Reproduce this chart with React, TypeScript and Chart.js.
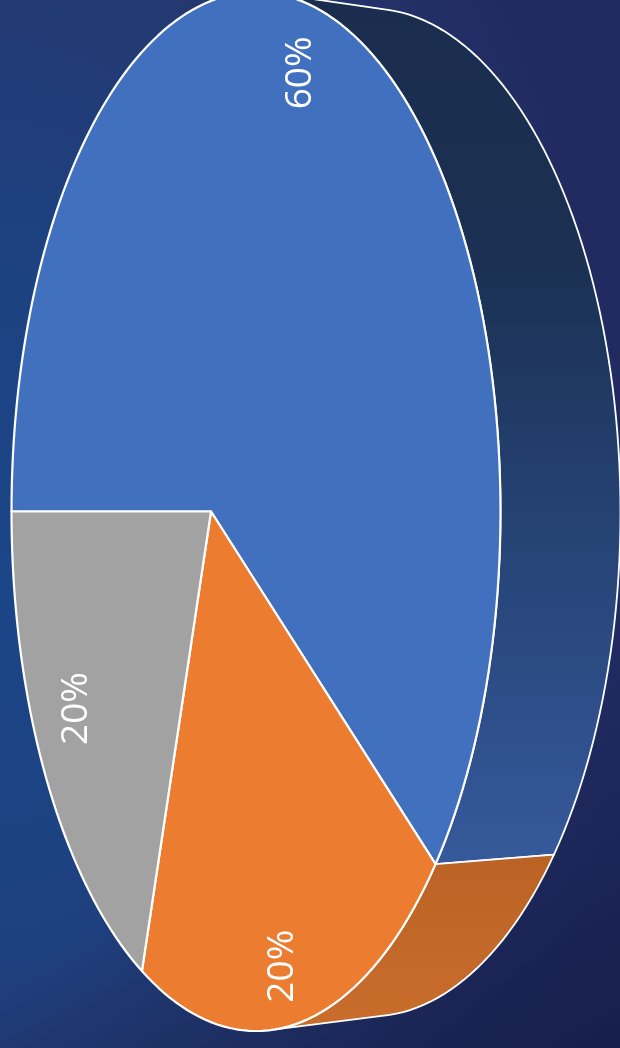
import React, { useEffect, useRef } from "react";
import { Chart, registerables } from "chart.js";

Chart.register(...registerables);

const categories = ["Blue", "Orange", "Gray"];
const values = [60, 20, 20];
const faceColors = ["#4170BF", "#EB7C30", "#A2A2A2"];

// Layout of the tilted pie: a circle seen in perspective
const TILT = -0.184;
const FRONT = { cx: 256, cy: 511.5, rx: 244.5, ry: 519.5 };
const BACK = { cx: 370, cy: 512.5, rx: 250.5, ry: 504 };
const LABEL_RADIUS = [0.876, 0.89, 0.775];
const LABEL_TURN = [5.4, -0.4, 2.16];
const LABEL_SHIFT = 1.5;

type Ell = typeof FRONT;

function project(px: number, py: number, e: Ell) {
  const d = 1 + TILT * px;
  const s = Math.sqrt(1 - TILT * TILT);
  return { x: e.cx + (e.rx * (px + TILT)) / d, y: e.cy + (e.ry * s * py) / d };
}
const rim = (t: number, e: Ell) => project(Math.cos(t), Math.sin(t), e);

function wallGradient(ctx: CanvasRenderingContext2D, index: number) {
  if (index === 0) {
    const g = ctx.createLinearGradient(0, 0, 0, 860);
    g.addColorStop(0, "#1A2D4E");
    g.addColorStop(0.3, "#1B3052");
    g.addColorStop(0.55, "#233F6E");
    g.addColorStop(0.75, "#2A4A81");
    g.addColorStop(1, "#36599B");
    return g;
  }
  const g = ctx.createLinearGradient(0, 860, 0, 1030);
  g.addColorStop(0, "#BB6325");
  g.addColorStop(1, "#C96D2C");
  return g;
}

const tiltedPie = {
  id: "tiltedPie",
  beforeDatasetsDraw(chart: any) {
    const ctx: CanvasRenderingContext2D = chart.ctx;
    const arcs = chart.getDatasetMeta(0).data;
    const steps = 240;
    ctx.save();
    ctx.lineJoin = "round";

    // side walls: only the part of each rim that faces the viewer
    arcs.forEach((arc: any, i: number) => {
      const a0 = arc.startAngle;
      const a1 = arc.endAngle;
      const n = Math.max(8, Math.round((steps * (a1 - a0)) / (2 * Math.PI)));
      const ts: number[] = [];
      for (let k = 0; k <= n; k++) {
        const t = a0 + ((a1 - a0) * k) / n;
        const f = rim(t, FRONT);
        const f2 = rim(t + 0.002, FRONT);
        const b = rim(t, BACK);
        const cross = (f2.x - f.x) * (b.y - f.y) - (f2.y - f.y) * (b.x - f.x);
        if (cross < 0) ts.push(t);
      }
      if (ts.length < 2) return;
      ctx.beginPath();
      ts.forEach((t, k) => {
        const p = rim(t, FRONT);
        if (k === 0) ctx.moveTo(p.x, p.y);
        else ctx.lineTo(p.x, p.y);
      });
      [...ts].reverse().forEach((t) => {
        const p = rim(t, BACK);
        ctx.lineTo(p.x, p.y);
      });
      ctx.closePath();
      ctx.fillStyle = wallGradient(ctx, i);
      ctx.fill();
      ctx.strokeStyle = "#FFFFFF";
      ctx.lineWidth = 1.8;
      ctx.stroke();
    });

    // top faces
    arcs.forEach((arc: any) => {
      const a0 = arc.startAngle;
      const a1 = arc.endAngle;
      const n = Math.max(8, Math.round((steps * (a1 - a0)) / (2 * Math.PI)));
      const c = project(0, 0, FRONT);
      ctx.beginPath();
      ctx.moveTo(c.x, c.y);
      for (let k = 0; k <= n; k++) {
        const p = rim(a0 + ((a1 - a0) * k) / n, FRONT);
        ctx.lineTo(p.x, p.y);
      }
      ctx.closePath();
      ctx.fillStyle = arc.options.backgroundColor;
      ctx.fill();
      ctx.strokeStyle = "#FFFFFF";
      ctx.lineWidth = 2.2;
      ctx.stroke();
    });

    // percentage labels, reading upwards
    const total = values.reduce((s, v) => s + v, 0);
    ctx.fillStyle = "#FFFFFF";
    ctx.font = "400 37px 'Open Sans'";
    ctx.textAlign = "center";
    ctx.textBaseline = "middle";
    arcs.forEach((arc: any, i: number) => {
      const mid = (arc.startAngle + arc.endAngle) / 2 + (LABEL_TURN[i] * Math.PI) / 180;
      const r = LABEL_RADIUS[i];
      const p = project(r * Math.cos(mid), r * Math.sin(mid), FRONT);
      ctx.save();
      ctx.translate(p.x + LABEL_SHIFT, p.y);
      ctx.rotate(-Math.PI / 2);
      ctx.fillText(`${Math.round((values[i] / total) * 100)}%`, 0, 0);
      ctx.restore();
    });
    ctx.restore();
    return false;
  },
};

export default function App() {
  const ref = useRef<HTMLCanvasElement>(null);
  useEffect(() => {
    document.body.style.margin = "0";
    const chart = new Chart(ref.current!, {
      type: "pie",
      data: {
        labels: categories,
        datasets: [{ data: values, backgroundColor: faceColors }],
      },
      options: {
        responsive: false,
        animation: false,
        rotation: 270,
        plugins: { legend: { display: false }, tooltip: { enabled: false } },
      },
      plugins: [tiltedPie],
    } as any);
    return () => chart.destroy();
  }, []);
  return (
    <div
      style={{
        position: "absolute",
        left: 0,
        top: 0,
        width: 620,
        height: 1048,
        overflow: "hidden",
        background:
          "radial-gradient(ellipse 620px 1000px at 0% 55%, rgba(27,70,135,1) 0%, rgba(29,66,130,1) 30%, rgba(36,56,112,1) 65%, rgba(33,43,98,1) 100%), #212B62",
      }}
    >
      <div
        style={{
          position: "absolute",
          inset: 0,
          background: "linear-gradient(150deg, rgba(22,31,76,0) 70%, rgba(22,31,76,1) 100%)",
        }}
      />
      <canvas ref={ref} width={620} height={1048} style={{ display: "block", position: "relative" }} />
    </div>
  );
}
